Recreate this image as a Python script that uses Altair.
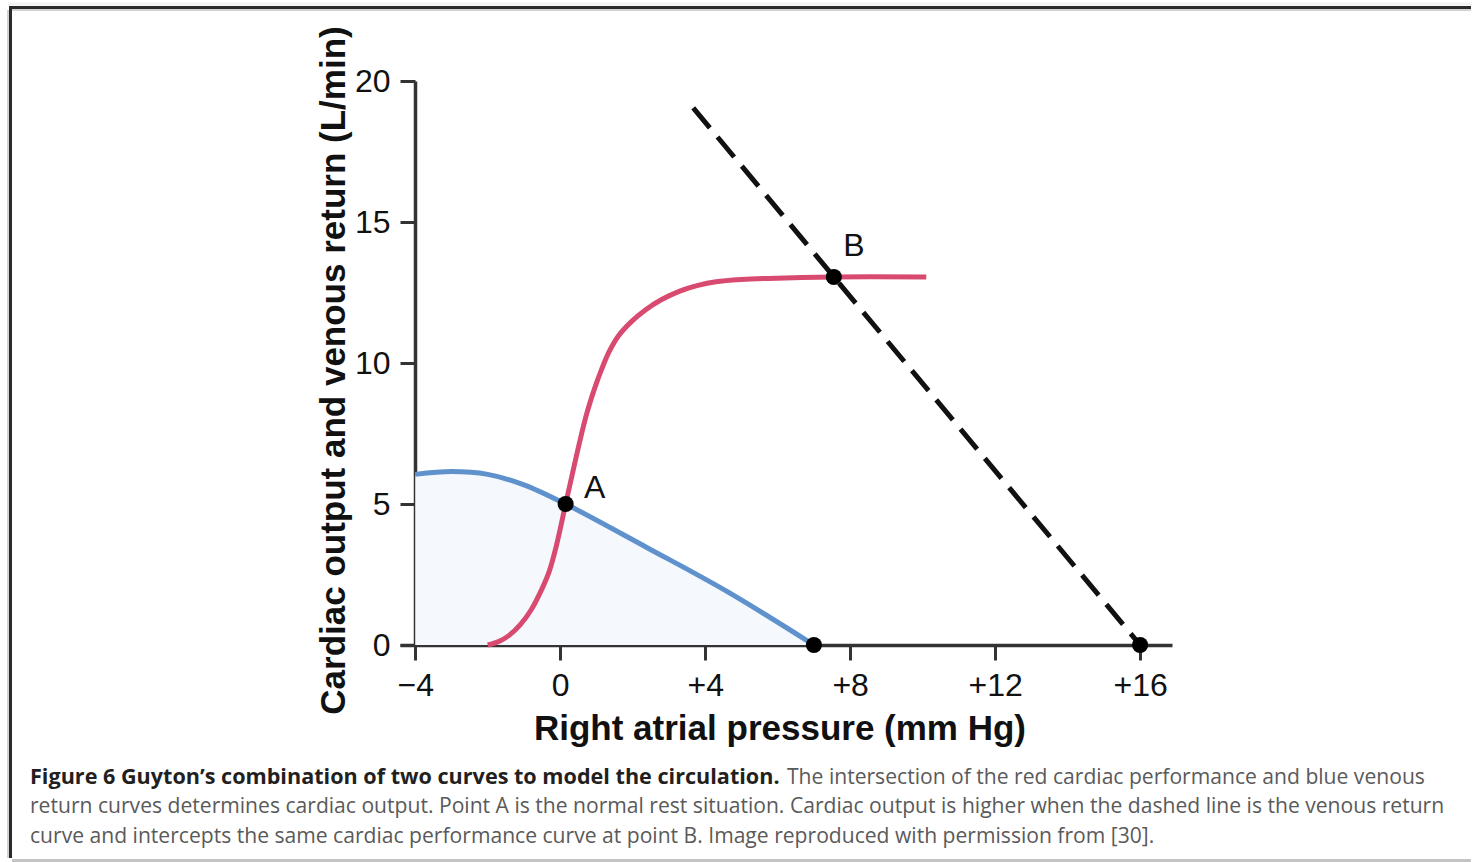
import altair as alt
import pandas as pd

# Cardiac performance curve (red), right atrial pressure vs output
red_x = [-2.0, -1.7, -1.4, -1.1, -0.8, -0.5, -0.3, -0.1, 0.15, 0.42, 0.72, 0.95, 1.15, 1.35, 1.6,
         1.95, 2.35, 2.8, 3.3, 3.8, 4.3, 5.0, 5.75, 7.55, 10.1]
red_y = [0.0, 0.12, 0.35, 0.72, 1.25, 2.0, 2.62, 3.55, 5.0, 6.55, 8.15, 9.1, 9.8, 10.4, 10.95,
         11.45, 11.88, 12.25, 12.55, 12.75, 12.88, 12.96, 13.0, 13.05, 13.05]

# Normal venous return curve (blue)
blue_x = [-4.0, -3.0, -2.0, -1.0, 0.15, 2.4, 4.6, 7.0]
blue_y = [6.05, 6.15, 6.05, 5.68, 5.0, 3.45, 1.9, 0.0]

# Raised venous return line (dashed)
dash_x = [3.67, 16.0]
dash_y = [19.05, 0.0]

# Marked points: A, B and the two zero-flow intercepts
pt_x = [0.15, 7.55, 7.0, 16.0]
pt_y = [5.0, 13.05, 0.0, 0.0]
pt_name = ["A", "B", "", ""]

x_ticks = [-4, 0, 4, 8, 12, 16]
y_ticks = [0, 5, 10, 15, 20]

caption_bold = "Figure 6 Guyton\u2019s combination of two curves to model the circulation."
caption_lines = [
    "The intersection of the red cardiac performance and blue venous",
    "return curves determines cardiac output. Point A is the normal rest situation. Cardiac output is higher when the dashed line is the venous return",
    "curve and intercepts the same cardiac performance curve at point B. Image reproduced with permission from [30].",
]

FONT = "Liberation Sans"
CAP_FONT = "Open Sans"

red = pd.DataFrame({"x": red_x, "y": red_y})
blue = pd.DataFrame({"x": blue_x, "y": blue_y})
dashed = pd.DataFrame({"x": dash_x, "y": dash_y})
pts = pd.DataFrame({"x": pt_x, "y": pt_y, "name": pt_name})

xs = alt.Scale(domain=[-4.42, 16.88], nice=False, zero=False)
ys = alt.Scale(domain=[0, 20], nice=False, zero=False)

x_axis = alt.Axis(
    values=x_ticks,
    labelExpr="datum.value > 0 ? '+' + datum.value : (datum.value < 0 ? '\u2212' + abs(datum.value) : '0')",
    grid=False, domainColor="#333333", domainWidth=3.5, tickColor="#333333", tickWidth=3,
    tickSize=15, labelFont=FONT, labelFontSize=32, labelColor="#111111", labelPadding=35,
    labelBaseline="alphabetic", labelFlush=False, labelOverlap=False,
    title="Right atrial pressure (mm Hg)", titleFont=FONT, titleFontSize=35,
    titleFontWeight="bold", titleColor="#111111", titleX=379.5, titleY=94,
    titleBaseline="alphabetic", titleAlign="center",
)
y_axis = alt.Axis(
    values=y_ticks, offset=-15,
    grid=False, domainColor="#333333", domainWidth=3.5, tickColor="#333333", tickWidth=3,
    tickSize=15, labelFont=FONT, labelFontSize=32, labelColor="#111111", labelPadding=10,
    labelFlush=False, labelOverlap=False,
    title="Cardiac output and venous return (L/min)", titleFont=FONT, titleFontSize=35,
    titleFontWeight="bold", titleColor="#111111", titleAngle=270, titleX=-71, titleY=289,
    titleBaseline="alphabetic", titleAlign="center",
)

X = alt.X("x:Q", scale=xs, axis=x_axis)
Y = alt.Y("y:Q", scale=ys, axis=y_axis)
Xn = alt.X("x:Q", scale=xs)
Yn = alt.Y("y:Q", scale=ys)

fill = alt.Chart(blue).mark_area(color="#f5f8fc", interpolate="catmull-rom").encode(x=X, y=Y)
blue_line = alt.Chart(blue).mark_line(color="#5f91cd", strokeWidth=5, interpolate="catmull-rom").encode(x=Xn, y=Yn)
red_line = alt.Chart(red).mark_line(color="#d94a70", strokeWidth=5, interpolate="catmull-rom").encode(x=Xn, y=Yn)
dash_line = alt.Chart(dashed).mark_line(color="#111111", strokeWidth=5, strokeDash=[26, 12]).encode(x=Xn, y=Yn)
dots = alt.Chart(pts).mark_point(filled=True, color="#000000", size=260, opacity=1).encode(x=Xn, y=Yn)
lab_a = alt.Chart(pts).transform_filter("datum.name == 'A'").mark_text(
    font=FONT, fontSize=32, color="#111111", dx=29, dy=-16, baseline="middle", align="center"
).encode(x=Xn, y=Yn, text="name:N")
lab_b = alt.Chart(pts).transform_filter("datum.name == 'B'").mark_text(
    font=FONT, fontSize=32, color="#111111", dx=20, dy=-31, baseline="middle", align="center"
).encode(x=Xn, y=Yn, text="name:N")

# Caption below the plot
cap_rows = [
    (caption_bold, -370, 703, "bold", "#231f20", 21.6),
    (caption_lines[0], 387, 703, "normal", "#5a5a5a", 21.1),
    (caption_lines[1], -370, 732, "normal", "#5a5a5a", 21.1),
    (caption_lines[2], -370, 762, "normal", "#5a5a5a", 21.1),
]
caps = []
for txt, cx, cy, wt, col, fs in cap_rows:
    caps.append(
        alt.Chart(pd.DataFrame({"t": [txt]})).mark_text(
            font=CAP_FONT, fontSize=fs, fontWeight=wt, color=col, align="left", baseline="alphabetic"
        ).encode(text="t:N", x=alt.value(cx), y=alt.value(cy))
    )

# Figure frame
one = pd.DataFrame({"k": [0]})
frame = [
    alt.Chart(one).mark_rule(color="#f2f2f2", strokeWidth=3).encode(x=alt.value(-392), x2=alt.value(1072), y=alt.value(-77)),
    alt.Chart(one).mark_rule(color="#2a2a2a", strokeWidth=3).encode(x=alt.value(-391), x2=alt.value(1071), y=alt.value(-73.5)),
    alt.Chart(one).mark_rule(color="#d2d2d2", strokeWidth=2).encode(x=alt.value(-388), x2=alt.value(1071), y=alt.value(-71)),
    alt.Chart(one).mark_rule(color="#d2d2d2", strokeWidth=2).encode(x=alt.value(-392), y=alt.value(-71), y2=alt.value(777)),
    alt.Chart(one).mark_rule(color="#2a2a2a", strokeWidth=3).encode(x=alt.value(-389.5), y=alt.value(-74), y2=alt.value(777)),
    alt.Chart(one).mark_rule(color="#c4c4c4", strokeWidth=3).encode(x=alt.value(-388), x2=alt.value(1071), y=alt.value(779.5)),
]

chart = alt.layer(
    fill, blue_line, red_line, dash_line, dots, lab_a, lab_b, *caps, *frame
).properties(
    width=772, height=564,
    padding={"left": 400, "top": 81, "right": 302, "bottom": 217},
    autosize=alt.AutoSizeParams(type="none"),
    background="#ffffff",
).configure_view(stroke=None)

chart.save("out.html", embed_options={"renderer": "svg", "actions": False})
